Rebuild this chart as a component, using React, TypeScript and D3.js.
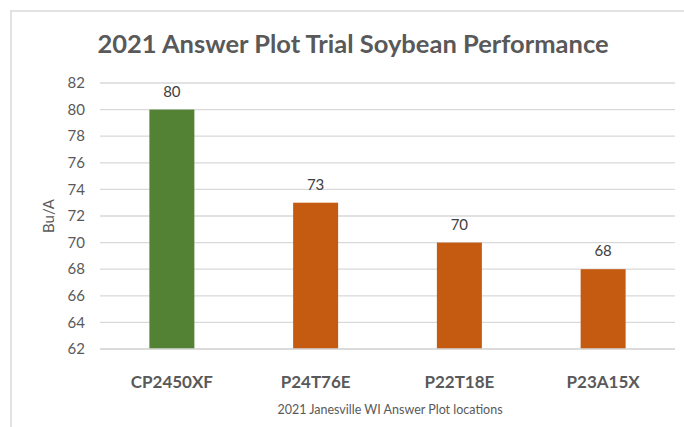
import React from 'react';
import * as d3 from 'd3';

const categories = ['CP2450XF', 'P24T76E', 'P22T18E', 'P23A15X'];
const yields = [80, 73, 70, 68];
const barColors = ['#548235', '#C55A11', '#C55A11', '#C55A11'];
const yTicks = [62, 64, 66, 68, 70, 72, 74, 76, 78, 80, 82];

const W = 684;
const H = 427;
const left = 100;
const right = 675;
const top = 83;
const bottom = 349;
const font = 'Lato, "Open Sans", sans-serif';

export default function App() {
  const x = d3.scaleBand<string>()
    .domain(categories)
    .range([left, right])
    .paddingInner(0.687)
    .paddingOuter(0.3435);

  const y = d3.scaleLinear().domain([62, 82]).range([bottom, top]);

  return (
    <svg width={W} height={H} style={{ position: 'absolute', left: 0, top: 0, background: '#fff' }}>
      {/* chart frame */}
      <rect x={11} y={11} width={W} height={H} fill="#fff" stroke="#d9d9d9" strokeWidth={1.5} />

      <text x={353} y={53} textAnchor="middle" fontFamily={font} fontWeight="bold" fontSize={25.5} fill="#595959">
        2021 Answer Plot Trial Soybean Performance
      </text>

      {yTicks.map(t => (
        <g key={t}>
          <line x1={left} x2={right} y1={y(t)} y2={y(t)} stroke="#d9d9d9" strokeWidth={1.3} />
          <text x={85} y={y(t)} dy="0.35em" textAnchor="end" fontFamily={font} fontSize={15} fill="#595959">
            {t}
          </text>
        </g>
      ))}

      <text transform="translate(54,216) rotate(-90)" textAnchor="middle" fontFamily={font} fontSize={15} fill="#595959">
        Bu/A
      </text>

      {categories.map((c, i) => (
        <g key={c}>
          <rect
            x={x(c)}
            y={y(yields[i])}
            width={x.bandwidth()}
            height={y(62) - y(yields[i])}
            fill={barColors[i]}
          />
          <text
            x={(x(c) as number) + x.bandwidth() / 2}
            y={y(yields[i]) - 13}
            textAnchor="middle"
            fontFamily={font}
            fontSize={15}
            fill="#404040"
          >
            {yields[i]}
          </text>
          <text
            x={(x(c) as number) + x.bandwidth() / 2}
            y={388}
            textAnchor="middle"
            fontFamily={font}
            fontWeight="bold"
            fontSize={17}
            fill="#595959"
          >
            {c}
          </text>
        </g>
      ))}

      <line x1={left} x2={right} y1={bottom} y2={bottom} stroke="#d9d9d9" strokeWidth={1.5} />

      <text x={390} y={414} textAnchor="middle" fontFamily={font} fontSize={12.5} fill="#595959">
        2021 Janesville WI Answer Plot locations
      </text>
    </svg>
  );
}
